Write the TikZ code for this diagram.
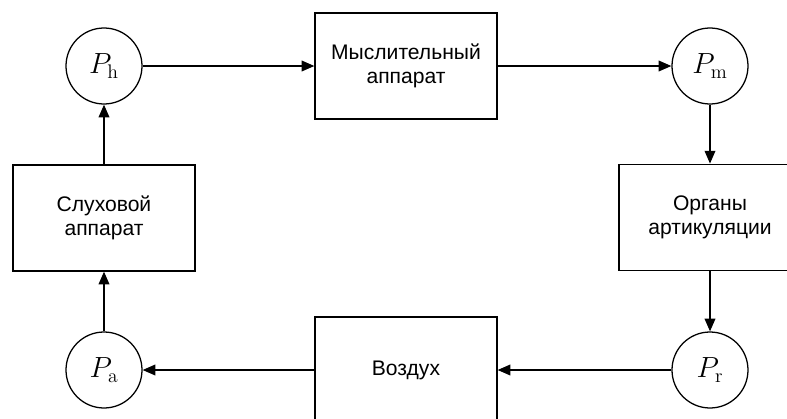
\documentclass[tikz,border=0pt]{standalone}
\usepackage{amsmath}
\usepackage{fontspec}
\setmainfont{Liberation Sans}
\setmathrm{Latin Modern Roman}
\usetikzlibrary{arrows.meta}

\begin{document}
\begin{tikzpicture}[every node/.style={font=\fontsize{15}{17.5}\selectfont}, >={Triangle[length=3.2mm, width=2.7mm]},
	blk/.style={draw, line width=0.9pt, minimum width=4.55cm, minimum height=2.65cm, align=center},
	pt/.style={draw, circle, line width=0.9pt, minimum size=1.9cm, inner sep=0pt, font=\fontsize{20}{22}\selectfont}]
	\useasboundingbox (0,0) rectangle (19.675,-10.475);
	\node[pt] (ph) at (2.6,-1.65) {$P_{\mathrm{h}}$};
	\node[blk] (think) at (10.15,-1.65) {Мыслительный\\ аппарат};
	\node[pt] (pm) at (17.75,-1.65) {$P_{\mathrm{m}}$};
	\node[blk] (art) at (17.75,-5.43) {Органы\\ артикуляции};
	\node[pt] (pr) at (17.75,-9.25) {$P_{\mathrm{r}}$};
	\node[blk] (air) at (10.15,-9.25) {Воздух};
	\node[pt] (pa) at (2.6,-9.25) {$P_{\mathrm{a}}$};
	\node[blk] (ear) at (2.6,-5.45) {Слуховой\\ аппарат};
	\foreach \a/\b in {ph/think, think/pm, pm/art, art/pr, pr/air, air/pa, pa/ear, ear/ph} {\draw[->, line width=0.9pt] (\a) -- (\b);}
\end{tikzpicture}
\end{document}
